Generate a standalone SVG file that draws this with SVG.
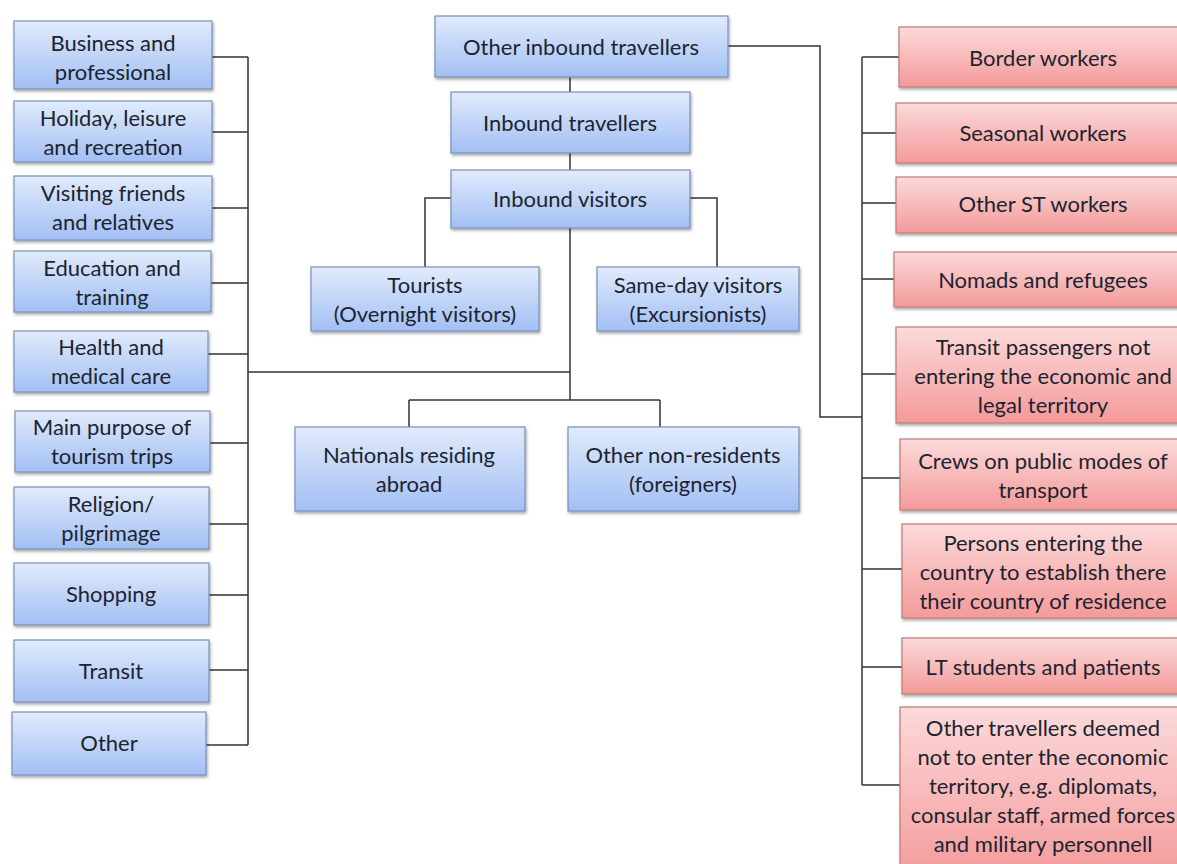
<svg xmlns="http://www.w3.org/2000/svg" width="1177" height="864" viewBox="0 0 1177 864">
<defs>
<linearGradient id="gb" x1="0" y1="0" x2="0" y2="1">
<stop offset="0" stop-color="#e1ebfc"/>
<stop offset="1" stop-color="#a2bff4"/>
</linearGradient>
<linearGradient id="gr" x1="0" y1="0" x2="0" y2="1">
<stop offset="0" stop-color="#fcdada"/>
<stop offset="1" stop-color="#f49a9a"/>
</linearGradient>
<filter id="sh" x="-10%" y="-10%" width="130%" height="140%">
<feDropShadow dx="1" dy="2" stdDeviation="1.5" flood-color="#000" flood-opacity="0.35"/>
</filter>
<style>
.b rect{fill:url(#gb);stroke:#7890b8;stroke-width:1.2;filter:url(#sh)}
.r rect{fill:url(#gr);stroke:#bf7a7a;stroke-width:1.2;filter:url(#sh)}
text{font-family:Lato,"Open Sans","Liberation Sans",sans-serif;font-size:22px;fill:#1c2430;text-anchor:middle;dominant-baseline:central}
.c path{fill:none;stroke:#333;stroke-width:1.5}
</style>
</defs>
<rect width="1177" height="864" fill="#fff"/>
<g class="c" id="connectors">
<path d="M211 57H248M212 132H248M212 208H248M211 283H248M208 354H248M210 443H248M209 524H248M209 595H248M209 670H248M206 745H248M248 57V745"/>
<path d="M248 372H570"/>
<path d="M570 77V92M570 153V170M570 228V400M409 400H660M409 400V427M660 400V427"/>
<path d="M451 198H425V267M690 198H717V267"/>
<path d="M728 46H820V417H862"/>
<path d="M862 57V785M862 57H899M862 133H896M862 203H896M862 279H894M862 374H896M862 478H900M862 569H902M862 667H902M862 785H900"/>
</g>
<g id="n-business" class="b"><rect x="14" y="21" width="198" height="68"/><text x="113" y="42">Business and</text><text x="113" y="71">professional</text></g>
<g id="n-holiday" class="b"><rect x="14" y="101" width="198" height="61"/><text x="113" y="117">Holiday, leisure</text><text x="113" y="146">and recreation</text></g>
<g id="n-visiting" class="b"><rect x="14" y="176" width="198" height="64"/><text x="113" y="192">Visiting friends</text><text x="113" y="221">and relatives</text></g>
<g id="n-education" class="b"><rect x="14" y="251" width="197" height="61"/><text x="112" y="267">Education and</text><text x="112" y="296">training</text></g>
<g id="n-health" class="b"><rect x="14" y="331" width="194" height="61"/><text x="111" y="346">Health and</text><text x="111" y="375">medical care</text></g>
<g id="n-main" class="b"><rect x="15" y="411" width="195" height="61"/><text x="112" y="426">Main purpose of</text><text x="112" y="455">tourism trips</text></g>
<g id="n-religion" class="b"><rect x="14" y="487" width="195" height="62"/><text x="111" y="503">Religion/</text><text x="111" y="532">pilgrimage</text></g>
<g id="n-shopping" class="b"><rect x="14" y="563" width="195" height="62"/><text x="111" y="593">Shopping</text></g>
<g id="n-transit" class="b"><rect x="14" y="640" width="195" height="62"/><text x="111" y="670">Transit</text></g>
<g id="n-other" class="b"><rect x="12" y="712" width="194" height="63"/><text x="109" y="742">Other</text></g>
<g id="n-otherinbound" class="b"><rect x="435" y="16" width="293" height="61"/><text x="581" y="46">Other inbound travellers</text></g>
<g id="n-inboundtrav" class="b"><rect x="451" y="92" width="239" height="61"/><text x="570" y="122">Inbound travellers</text></g>
<g id="n-inboundvis" class="b"><rect x="451" y="170" width="239" height="58"/><text x="570" y="198">Inbound visitors</text></g>
<g id="n-tourists" class="b"><rect x="311" y="267" width="228" height="64"/><text x="425" y="284">Tourists</text><text x="425" y="313">(Overnight visitors)</text></g>
<g id="n-sameday" class="b"><rect x="597" y="267" width="202" height="64"/><text x="698" y="284">Same-day visitors</text><text x="698" y="313">(Excursionists)</text></g>
<g id="n-nationals" class="b"><rect x="295" y="427" width="230" height="84"/><text x="409" y="454">Nationals residing</text><text x="409" y="483">abroad</text></g>
<g id="n-nonres" class="b"><rect x="568" y="427" width="231" height="84"/><text x="683" y="454">Other non-residents</text><text x="683" y="483">(foreigners)</text></g>
<g id="n-border" class="r"><rect x="899" y="27" width="290" height="60"/><text x="1043" y="57">Border workers</text></g>
<g id="n-seasonal" class="r"><rect x="896" y="103" width="293" height="60"/><text x="1043" y="132">Seasonal workers</text></g>
<g id="n-otherst" class="r"><rect x="896" y="177" width="293" height="56"/><text x="1043" y="203">Other ST workers</text></g>
<g id="n-nomads" class="r"><rect x="894" y="252" width="295" height="55"/><text x="1043" y="279">Nomads and refugees</text></g>
<g id="n-transitpass" class="r"><rect x="896" y="327" width="293" height="96"/><text x="1043" y="346">Transit passengers not</text><text x="1043" y="375">entering the economic and</text><text x="1043" y="404">legal territory</text></g>
<g id="n-crews" class="r"><rect x="900" y="439" width="289" height="71"/><text x="1043" y="460">Crews on public modes of</text><text x="1043" y="489">transport</text></g>
<g id="n-persons" class="r"><rect x="902" y="524" width="287" height="94"/><text x="1043" y="542">Persons entering the</text><text x="1043" y="571">country to establish there</text><text x="1043" y="600">their country of residence</text></g>
<g id="n-lt" class="r"><rect x="902" y="638" width="287" height="56"/><text x="1043" y="666">LT students and patients</text></g>
<g id="n-othertrav" class="r"><rect x="900" y="707" width="289" height="170"/><text x="1043" y="727">Other travellers deemed</text><text x="1043" y="756">not to enter the economic</text><text x="1043" y="785">territory, e.g. diplomats,</text><text x="1043" y="814">consular staff, armed forces</text><text x="1043" y="843">and military personnell</text></g>
</svg>
